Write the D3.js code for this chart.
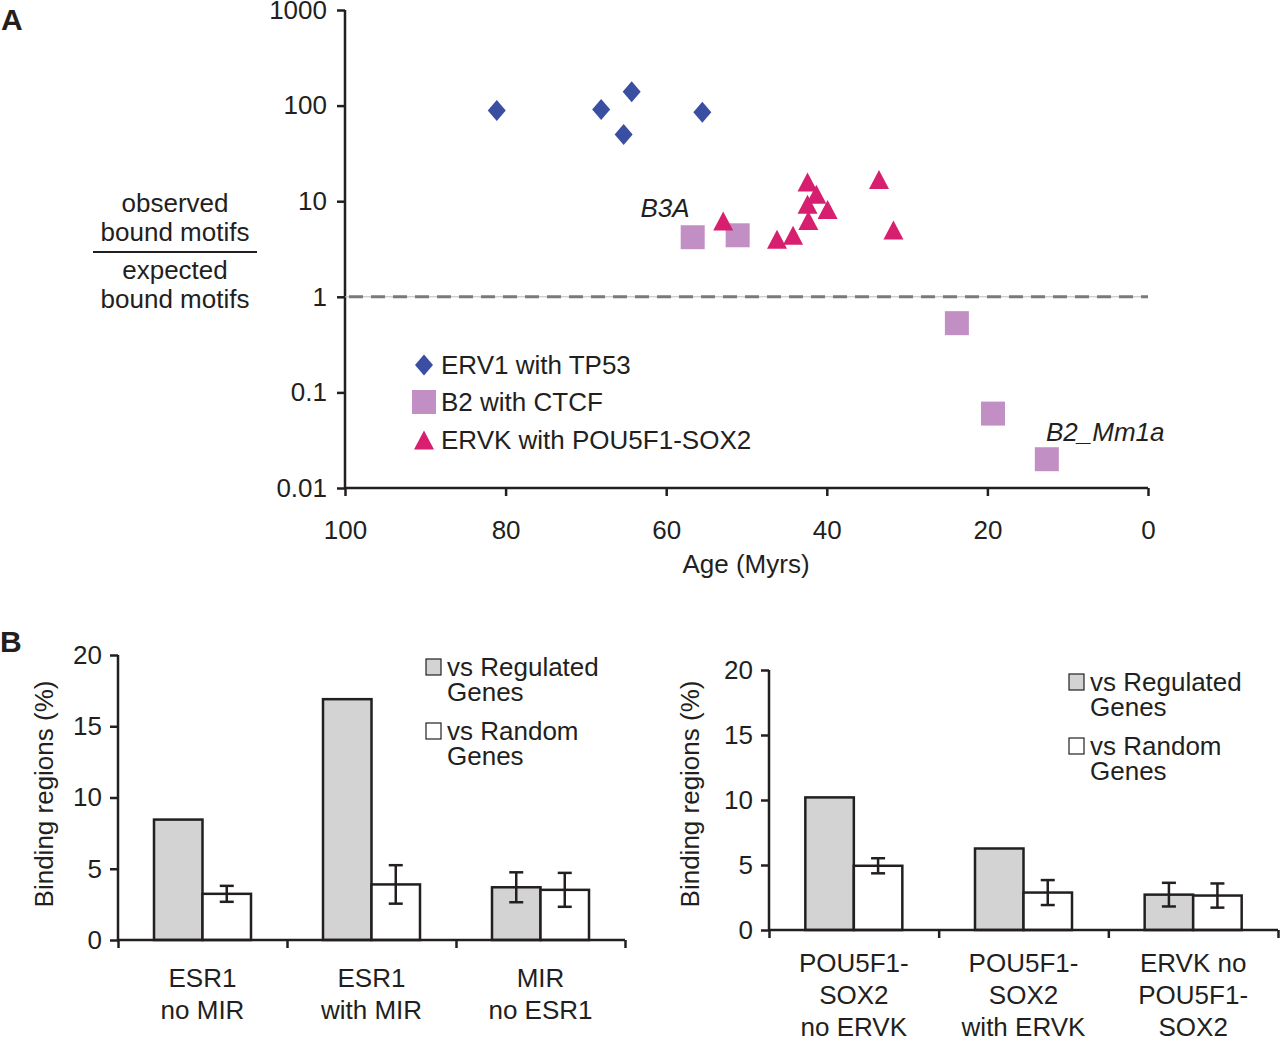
<!DOCTYPE html>
<html><head><meta charset="utf-8">
<script src="https://cdn.jsdelivr.net/npm/d3@7"></script>
<style>body{margin:0;background:#fff}svg{display:block}text{font-family:"Liberation Sans",Arial,sans-serif;fill:#231f20}</style>
</head><body>
<svg id="c" width="1280" height="1039"></svg>
<script>
// ---- Panel A data ----
const erv1Age = [81.1, 68.1, 64.3, 65.3, 55.5];
const erv1Val = [89, 91, 140, 50, 85];
const b2Age = [56.7, 51.1, 23.8, 19.3, 12.6];
const b2Val = [4.2, 4.4, 0.53, 0.06, 0.02];
const ervkAge = [52.9, 42.4, 41.3, 42.4, 39.9, 42.3, 44.2, 46.2, 33.5, 31.7];
const ervkVal = [6.2, 15.9, 11.8, 9.3, 8.2, 6.3, 4.4, 4.0, 16.9, 5.0];
const yTicksA = [0.01, 0.1, 1, 10, 100, 1000];
const yTickLabelsA = ["0.01", "0.1", "1", "10", "100", "1000"];
const xTicksA = [100, 80, 60, 40, 20, 0];
const legendA = ["ERV1 with TP53", "B2 with CTCF", "ERVK with POU5F1-SOX2"];

// ---- Panel B data ----
const catsB1 = [["ESR1", "no MIR"], ["ESR1", "with MIR"], ["MIR", "no ESR1"]];
const regB1 = [8.45, 16.9, 3.7];
const regErrB1 = [0, 0, 1.05];
const randB1 = [3.24, 3.9, 3.52];
const randErrB1 = [0.56, 1.35, 1.19];
const catsB2 = [["POU5F1-", "SOX2", "no ERVK"], ["POU5F1-", "SOX2", "with ERVK"], ["ERVK no", "POU5F1-", "SOX2"]];
const regB2 = [10.2, 6.27, 2.72];
const regErrB2 = [0, 0, 0.91];
const randB2 = [4.94, 2.88, 2.65];
const randErrB2 = [0.58, 0.96, 0.93];
const yTicksB = [0, 5, 10, 15, 20];
const legendB = [["vs Regulated", "Genes"], ["vs Random", "Genes"]];

const svg = d3.select("#c");
const FS = 26, INK = "#231f20";
const C_BLUE = "#3a4ea2", C_LIL = "#c28fc4", C_PINK = "#d81e6e";

// ================= Panel A =================
const xA = d3.scaleLinear().domain([100, 0]).range([345, 1148]);
const yA = d3.scaleLog().domain([0.01, 1000]).range([488, 10]);
const gA = svg.append("g");

svg.append("text").attr("x", 1).attr("y", 30).attr("font-size", 30).attr("font-weight", "bold").text("A");

const axL = gA.append("g").attr("transform", "translate(345,0)")
  .call(d3.axisLeft(yA).tickValues(yTicksA).tickFormat((d, i) => yTickLabelsA[i]).tickSize(8).tickPadding(10));
const axB = gA.append("g").attr("transform", "translate(0,488)")
  .call(d3.axisBottom(xA).tickValues(xTicksA).tickFormat(d3.format("d")).tickSize(8).tickPadding(25));
[axL, axB].forEach(a => {
  a.select(".domain").attr("stroke", INK).attr("stroke-width", 2.5);
  a.selectAll(".tick line").attr("stroke", INK).attr("stroke-width", 2.5);
  a.selectAll("text").attr("font-size", FS).attr("fill", INK).attr("font-family", '"Liberation Sans",Arial,sans-serif');
});
axL.select(".domain").attr("d", "M0," + yA(1000) + "V" + yA(0.01));
axB.select(".domain").attr("d", "M" + xA(100) + ",0H" + xA(0));

// dashed reference line at 1
gA.append("line").attr("x1", xA(100)).attr("x2", xA(0)).attr("y1", yA(1)).attr("y2", yA(1))
  .attr("stroke", "#bbb").attr("stroke-width", 1);
gA.append("line").attr("x1", xA(100) + 4).attr("x2", xA(0)).attr("y1", yA(1)).attr("y2", yA(1))
  .attr("stroke", "#7a7a7a").attr("stroke-width", 3).attr("stroke-dasharray", "14,8");

// y-axis fraction title
const fx = 175;
gA.append("text").attr("x", fx).attr("y", 212).attr("text-anchor", "middle").attr("font-size", FS).text("observed");
gA.append("text").attr("x", fx).attr("y", 241).attr("text-anchor", "middle").attr("font-size", FS).text("bound motifs");
gA.append("line").attr("x1", 93).attr("x2", 257).attr("y1", 252).attr("y2", 252).attr("stroke", INK).attr("stroke-width", 2);
gA.append("text").attr("x", fx).attr("y", 279).attr("text-anchor", "middle").attr("font-size", FS).text("expected");
gA.append("text").attr("x", fx).attr("y", 308).attr("text-anchor", "middle").attr("font-size", FS).text("bound motifs");

// x title
gA.append("text").attr("x", 746).attr("y", 573).attr("text-anchor", "middle").attr("font-size", FS).text("Age (Myrs)");

const diamond = (w, h) => `M0,${-h/2}L${w/2},0L0,${h/2}L${-w/2},0Z`;
const square = s => `M${-s/2},${-s/2}h${s}v${s}h${-s}Z`;
const tri = (w, h) => `M0,${-h/2}L${w/2},${h/2}L${-w/2},${h/2}Z`;

// B2 squares
gA.append("g").selectAll("path").data(d3.range(b2Age.length)).join("path")
  .attr("transform", i => `translate(${xA(b2Age[i])},${yA(b2Val[i])})`)
  .attr("d", square(24)).attr("fill", C_LIL);
// ERVK triangles
gA.append("g").selectAll("path").data(d3.range(ervkAge.length)).join("path")
  .attr("transform", i => `translate(${xA(ervkAge[i])},${yA(ervkVal[i])})`)
  .attr("d", tri(20, 19)).attr("fill", C_PINK);
// ERV1 diamonds
gA.append("g").selectAll("path").data(d3.range(erv1Age.length)).join("path")
  .attr("transform", i => `translate(${xA(erv1Age[i])},${yA(erv1Val[i])})`)
  .attr("d", diamond(18, 21)).attr("fill", C_BLUE);

// annotations
gA.append("text").attr("x", 665).attr("y", 217).attr("text-anchor", "middle").attr("font-size", FS).attr("font-style", "italic").text("B3A");
gA.append("text").attr("x", 1046).attr("y", 441).attr("font-size", FS).attr("font-style", "italic").text("B2_Mm1a");

// legend A
const legY = [365, 402, 440];
const legShapes = [diamond(18, 21), square(24), tri(20, 19)];
const legCols = [C_BLUE, C_LIL, C_PINK];
legendA.forEach((t, i) => {
  gA.append("path").attr("transform", `translate(424,${legY[i]})`).attr("d", legShapes[i]).attr("fill", legCols[i]);
  gA.append("text").attr("x", 441).attr("y", legY[i] + 9).attr("font-size", FS).text(t);
});

// ================= Panel B =================
svg.append("text").attr("x", 0).attr("y", 652).attr("font-size", 30).attr("font-weight", "bold").text("B");

function barPanel(opt) {
  const g = svg.append("g");
  const x = d3.scaleBand().domain(d3.range(opt.cats.length)).range([opt.x0, opt.x1]);
  const y = d3.scaleLinear().domain([0, 20]).range([opt.y0, opt.yTop]);
  const bw = 48.5;
  // bars
  opt.reg.forEach((v, i) => {
    const cx = x(i) + x.bandwidth() / 2;
    g.append("rect").attr("x", cx - bw).attr("y", y(v)).attr("width", bw).attr("height", y(0) - y(v))
      .attr("fill", "#d3d3d3").attr("stroke", INK).attr("stroke-width", 2.5);
    g.append("rect").attr("x", cx).attr("y", y(opt.rand[i])).attr("width", bw).attr("height", y(0) - y(opt.rand[i]))
      .attr("fill", "#fff").attr("stroke", INK).attr("stroke-width", 2.5);
    const eb = (ex, val, err) => {
      if (!err) return;
      g.append("line").attr("x1", ex).attr("x2", ex).attr("y1", y(val - err)).attr("y2", y(val + err)).attr("stroke", INK).attr("stroke-width", 2.5);
      [val - err, val + err].forEach(e => g.append("line").attr("x1", ex - 7).attr("x2", ex + 7).attr("y1", y(e)).attr("y2", y(e)).attr("stroke", INK).attr("stroke-width", 2.5));
    };
    eb(cx - bw / 2, v, opt.regErr[i]);
    eb(cx + bw / 2, opt.rand[i], opt.randErr[i]);
    opt.cats[i].forEach((l, j) => {
      g.append("text").attr("x", cx).attr("y", opt.labY + j * 32).attr("text-anchor", "middle").attr("font-size", FS).text(l);
    });
  });
  // axes
  const ay = g.append("g").attr("transform", `translate(${opt.x0},0)`)
    .call(d3.axisLeft(y).tickValues(yTicksB).tickSize(8).tickPadding(8));
  const ax = g.append("g").attr("transform", `translate(0,${opt.y0})`)
    .call(d3.axisBottom(d3.scaleLinear().domain([0, opt.cats.length]).range([opt.x0, opt.x1]))
      .tickValues(d3.range(opt.cats.length + 1)).tickFormat("").tickSize(8));
  [ay, ax].forEach(a => {
    a.select(".domain").attr("stroke", INK).attr("stroke-width", 2.5);
    a.selectAll(".tick line").attr("stroke", INK).attr("stroke-width", 2.5);
    a.selectAll("text").attr("font-size", FS).attr("fill", INK).attr("font-family", '"Liberation Sans",Arial,sans-serif');
  });
  ay.select(".domain").attr("d", `M0,${opt.yTop}V${opt.y0}`);
  ax.select(".domain").attr("d", `M${opt.x0},0H${opt.x1}`);
  // y title
  g.append("text").attr("transform", `translate(${opt.titleX},${opt.titleY}) rotate(-90)`)
    .attr("text-anchor", "middle").attr("font-size", FS).text("Binding regions (%)");
  // legend
  const fills = ["#d3d3d3", "#fff"];
  legendB.forEach((lines, k) => {
    const ly = opt.legY + k * 64;
    g.append("rect").attr("x", opt.legX).attr("y", ly - 8).attr("width", 15).attr("height", 16)
      .attr("fill", fills[k]).attr("stroke", INK).attr("stroke-width", 1.2);
    lines.forEach((l, j) => g.append("text").attr("x", opt.legX + 21).attr("y", ly + 9 + j * 25)
      .attr("font-size", FS).text(l));
  });
}

barPanel({cats: catsB1, reg: regB1, regErr: regErrB1, rand: randB1, randErr: randErrB1,
  x0: 118, x1: 625, y0: 940, yTop: 655, labY: 987, titleX: 53, titleY: 794, legX: 426, legY: 667});
barPanel({cats: catsB2, reg: regB2, regErr: regErrB2, rand: randB2, randErr: randErrB2,
  x0: 769, x1: 1278, y0: 930, yTop: 670, labY: 972, titleX: 699, titleY: 794, legX: 1069, legY: 682});
</script>
</body></html>
